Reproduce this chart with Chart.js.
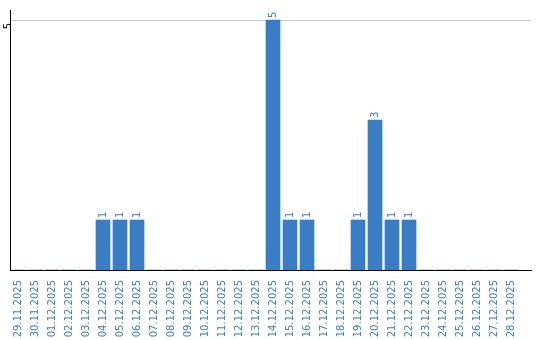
<!DOCTYPE html>
<html>
<head>
<meta charset="utf-8">
<script src="https://cdn.jsdelivr.net/npm/chart.js@4/dist/chart.umd.min.js"></script>
<style>
    html, body { margin: 0; padding: 0; background: #fff; }
    #wrap { width: 540px; height: 340px; }
</style>
</head>
<body>
<div id="wrap"><canvas id="chart"></canvas></div>
<script>
const days = [
    '29.11.2025', '30.11.2025', '01.12.2025', '02.12.2025', '03.12.2025',
    '04.12.2025', '05.12.2025', '06.12.2025', '07.12.2025', '08.12.2025',
    '09.12.2025', '10.12.2025', '11.12.2025', '12.12.2025', '13.12.2025',
    '14.12.2025', '15.12.2025', '16.12.2025', '17.12.2025', '18.12.2025',
    '19.12.2025', '20.12.2025', '21.12.2025', '22.12.2025', '23.12.2025',
    '24.12.2025', '25.12.2025', '26.12.2025', '27.12.2025', '28.12.2025'
];
const counts = [0, 0, 0, 0, 0, 1, 1, 1, 0, 0, 0, 0, 0, 0, 0, 5, 1, 1, 0, 0, 1, 3, 1, 1, 0, 0, 0, 0, 0, 0];
const yTicks = [5];

const blue = '#3b7dc4';
const font = { family: 'DejaVu Sans', size: 10 };

// draws the count above every bar, rotated like the axis labels
const valueLabels = {
    id: 'valueLabels',
    afterDatasetsDraw(chart) {
        const ctx = chart.ctx;
        const meta = chart.getDatasetMeta(0);
        meta.data.forEach((bar, i) => {
            if (!counts[i]) return;
            ctx.save();
            ctx.translate(bar.x, bar.y - 2);
            ctx.rotate(-Math.PI / 2);
            ctx.font = `${font.size}px ${font.family}`;
            ctx.fillStyle = blue;
            ctx.textAlign = 'left';
            ctx.textBaseline = 'middle';
            ctx.fillText(String(counts[i]), 0, 0);
            ctx.restore();
        });
    }
};

new Chart(document.getElementById('chart'), {
    type: 'bar',
    data: {
        datasets: [{
            data: counts.map((c, i) => ({ x: i, y: c })),
            backgroundColor: blue,
            borderWidth: 0,
            barThickness: 14
        }]
    },
    options: {
        responsive: true,
        maintainAspectRatio: false,
        animation: false,
        layout: { padding: { top: 10, right: 9, left: 0, bottom: 0 } },
        plugins: {
            legend: { display: false },
            tooltip: { enabled: false }
        },
        scales: {
            x: {
                type: 'linear',
                offset: false,
                min: -8 / 17,
                max: 521 / 17 - 8 / 17,
                afterBuildTicks: (s) => { s.ticks = days.map((d, i) => ({ value: i })); },
                afterFit: (s) => {
                    s.height = 70;
                    s.paddingLeft = 0;
                    s.paddingRight = 0;
                },
                grid: { display: false },
                border: { display: true, color: '#000', width: 1 },
                ticks: {
                    autoSkip: false,
                    minRotation: 90,
                    maxRotation: 90,
                    padding: 2,
                    color: blue,
                    font: font,
                    callback: (v) => days[v]
                }
            },
            y: {
                min: 0,
                max: 5.2,
                afterBuildTicks: (s) => { s.ticks = yTicks.map(v => ({ value: v })); },
                afterFit: (s) => { s.width = 10; },
                grid: { color: '#c8c8c8', drawTicks: false },
                border: { display: true, color: '#000', width: 1 },
                ticks: {
                    minRotation: 90,
                    maxRotation: 90,
                    padding: 2,
                    labelOffset: 3,
                    color: '#000',
                    font: font
                }
            }
        }
    },
    plugins: [valueLabels]
});
</script>
</body>
</html>
